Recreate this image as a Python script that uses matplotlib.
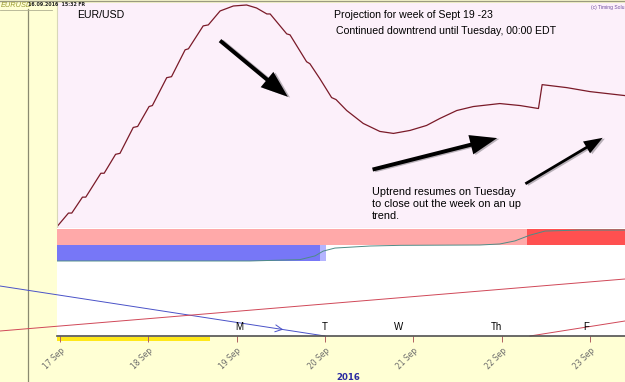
import matplotlib
matplotlib.use('Agg')
import matplotlib.pyplot as plt
from matplotlib.patches import Rectangle, FancyArrowPatch

# ---------------- data ----------------
# price projection: hours since 17 Sep 2016 00:00, price
price_hours = [-0.9, 2.3, 3.2, 6.1, 7.0, 11.1, 12.0, 15.1, 16.3, 19.9, 21.1, 24.2, 25.1,
               29.0, 30.3, 34.0, 34.9, 38.9, 40.3, 43.5, 47.1, 50.7, 53.4, 56.2, 57.1,
               61.6, 62.5, 67.0, 67.9, 70.6, 73.8, 75.0, 77.9, 82.4, 86.9, 90.6, 95.1,
               99.6, 103.2, 107.8, 112.3, 119.5, 125.0, 130.0, 131.0, 137.7, 144.0, 153.5]
price_values = [1.1101, 1.1115, 1.1115, 1.1131, 1.1131, 1.1155, 1.1155, 1.1174, 1.1175,
                1.1201, 1.1202, 1.1222, 1.1223, 1.1251, 1.1252, 1.1279, 1.1280, 1.1303,
                1.1304, 1.1318, 1.1323, 1.1324, 1.1321, 1.1315, 1.1315, 1.1295, 1.1294,
                1.1267, 1.1265, 1.1250, 1.1231, 1.1229, 1.1218, 1.1205, 1.1197, 1.1195,
                1.1198, 1.1203, 1.1210, 1.1218, 1.1222, 1.1225, 1.1223, 1.1220, 1.1244,
                1.1241, 1.1237, 1.1233]

# band indicator curve
band_hours = [-0.8, 51.6, 65.2, 69.3, 71.5, 74.7, 84.2, 92.4, 114.1, 119.5, 123.6, 127.7,
              131.8, 141.3, 153.5]
band_values = [0.03, 0.03, 0.07, 0.18, 0.32, 0.41, 0.47, 0.49, 0.50, 0.53, 0.62, 0.79,
               0.91, 0.94, 0.94]
blue_zone_end = 71.5
red_zone_start = 126.9

# lower panel trend lines (hour, level)
blue_line_hours = [-16.3, 72.0]
blue_line_levels = [50, 0]
red_line_hours = [-16.3, 153.5]
red_line_levels = [5, 57]
red2_line_hours = [127.7, 153.5]
red2_line_levels = [0, 15]

tick_hours = [0, 24, 48, 72, 96, 120, 144]
tick_labels = ['17 Sep', '18 Sep', '19 Sep', '20 Sep', '21 Sep', '22 Sep', '23 Sep']
day_letters = ['M', 'T', 'W', 'Th', 'F']
day_letter_hours = [48.6, 72.0, 92.0, 118.5, 143.0]

# ---------------- layout ----------------
W, H = 625, 382
K = 24 / 88.33          # hours per pixel
X0, X1 = (57 - 60) * K, (625 - 60) * K

YEL = '#FFFFD4'
plt.rcParams['font.family'] = ['Liberation Sans', 'DejaVu Sans']
fig = plt.figure(figsize=(6.25, 3.82), dpi=100, facecolor=YEL)


def fa(x0, y0, x1, y1):
    return [x0 / W, 1 - y1 / H, (x1 - x0) / W, (y1 - y0) / H]


def bare(ax):
    ax.set_xticks([])
    ax.set_yticks([])
    for s in ax.spines.values():
        s.set_visible(False)


ax_bg = fig.add_axes([0, 0, 1, 1])
ax_bg.set_xlim(0, W)
ax_bg.set_ylim(H, 0)
ax_bg.axis('off')
ax_bg.patch.set_alpha(0)
ax_bg.plot([28, 28], [9, H], color='#8A8A70', lw=0.9)
ax_bg.plot([0, W], [1.2, 1.2], color='#9A9A80', lw=1.0)
ax_bg.add_patch(Rectangle((57, 337), 153, 4, color='#FFE81A', lw=0))

# price panel
ax_p = fig.add_axes(fa(57, 3, 625, 228))
ax_p.set_facecolor('#FCF0FA')
ax_p.set_xlim(X0, X1)
ax_p.set_ylim(1.1100, 1.1326)
ax_p.set_xticks([])
ax_p.set_yticks([])
for s in ['top', 'right']:
    ax_p.spines[s].set_visible(False)
ax_p.spines['left'].set_color('#D8D8B8')
ax_p.spines['bottom'].set_color('#D8C8D4')
ax_p.plot(price_hours, price_values, color='#7A1A28', lw=0.9)

ax_p.text(0.035, 0.945, 'EUR/USD', transform=ax_p.transAxes, fontsize=7.6, va='center')
ax_p.text(0.487, 0.945, 'Projection for week of Sept 19 -23', transform=ax_p.transAxes,
          fontsize=7.6, va='center')
ax_p.text(0.491, 0.875, 'Continued downtrend until Tuesday, 00:00 EDT',
          transform=ax_p.transAxes, fontsize=7.6, va='center')
ax_p.text(0.999, 0.99, '(c) Timing Solu', transform=ax_p.transAxes, fontsize=3.6,
          color='#7050A0', ha='right', va='top')
ax_p.text(0.555, 0.107, 'Uptrend resumes on Tuesday\nto close out the week on an up\ntrend.',
          transform=ax_p.transAxes, fontsize=7.8, va='center', linespacing=1.25)

arrows = [((42.9, 1.1290), (62.5, 1.1230), 13),
          ((84.2, 1.1158), (119.5, 1.1191), 13),
          ((125.8, 1.1143), (148.1, 1.1192), 9)]
for (p0, p1, ms) in arrows:
    for dx, dy, col in [(0.6, -0.00008, '#B8B0B8'), (0, 0, 'black')]:
        a = FancyArrowPatch((p0[0] + dx, p0[1] + dy), (p1[0] + dx, p1[1] + dy),
                            arrowstyle='simple,head_length=1.5,head_width=1.1,tail_width=0.22',
                            mutation_scale=ms, color=col, lw=0)
        ax_p.add_patch(a)

# band panel
ax_b = fig.add_axes(fa(57, 228, 625, 262))
ax_b.set_facecolor('white')
ax_b.set_xlim(X0, X1)
ax_b.set_ylim(0, 1)
bare(ax_b)
ax_b.fill_between([X0, X1], 0.5, 0.97, color='#FFA9A9', lw=0)
ax_b.fill_between([red_zone_start, X1], 0.5, 0.97, color='#FF5050', lw=0)
ax_b.fill_between([X0, blue_zone_end], 0.03, 0.5, color='#7777F7', lw=0)
ax_b.fill_between([blue_zone_end - 0.8, blue_zone_end + 0.8], 0.03, 0.5, color='#B4B4FF', lw=0)
ax_b.plot(band_hours, band_values, color='#4E8C86', lw=0.7)

# lower panel
ax_l = fig.add_axes(fa(57, 262, 625, 336))
ax_l.set_facecolor('white')
ax_l.set_xlim(X0, X1)
ax_l.set_ylim(0, 74)
for s in ['top', 'right', 'left']:
    ax_l.spines[s].set_visible(False)
ax_l.spines['bottom'].set_color('#505050')
ax_l.spines['bottom'].set_linewidth(1.2)
ax_l.set_yticks([])
ax_l.set_xticks(tick_hours)
ax_l.set_xticklabels(tick_labels, rotation=45, ha='right', va='top',
                     rotation_mode='anchor', fontsize=5.5, color='#6A6A6A',
                     family='DejaVu Sans')
ax_l.tick_params(axis='x', length=4, color='#B06060', width=0.7, pad=3)
ax_l.plot(blue_line_hours, blue_line_levels, color='#4A52C8', lw=0.7, clip_on=False)
ax_l.plot(red_line_hours, red_line_levels, color='#D04858', lw=0.7, clip_on=False)
ax_l.plot(red2_line_hours, red2_line_levels, color='#D04858', lw=0.7, clip_on=False)
# open arrowhead on the blue line
t0, t1 = 0.86, 0.88
ah = [blue_line_hours[0] + t * (blue_line_hours[1] - blue_line_hours[0]) for t in (t0, t1)]
al = [blue_line_levels[0] + t * (blue_line_levels[1] - blue_line_levels[0]) for t in (t0, t1)]
ax_l.annotate('', xy=(ah[1], al[1]), xytext=(ah[0], al[0]),
              arrowprops=dict(arrowstyle='->,head_length=0.5,head_width=0.25',
                              color='#4A52C8', lw=0.7))
for lab, hr in zip(day_letters, day_letter_hours):
    ax_l.text(hr, 9, lab, fontsize=7, ha='center', va='center')

# header texts (figure level, drawn above the panels)
fig.text(1 / W, 1 - 5.5 / H, 'EURUSD', fontsize=5.3, style='italic', color='#9A9A30',
         va='center')
fig.text(28.5 / W, 1 - 5.0 / H, '16.09.2016  15:32 FR', fontsize=3.4, color='#202020',
         va='center', family='DejaVu Sans', fontweight='bold')
fig.add_artist(plt.Line2D([0, 52 / W], [1 - 9.5 / H, 1 - 9.5 / H], color='#B0B090', lw=0.6))
fig.text(348 / W, 1 - 377 / H, '2016', fontsize=6.2, color='#2A2AA0', ha='center',
         va='center', fontweight='bold', family='DejaVu Sans')

fig.savefig('out.png', dpi=100, facecolor=YEL)
